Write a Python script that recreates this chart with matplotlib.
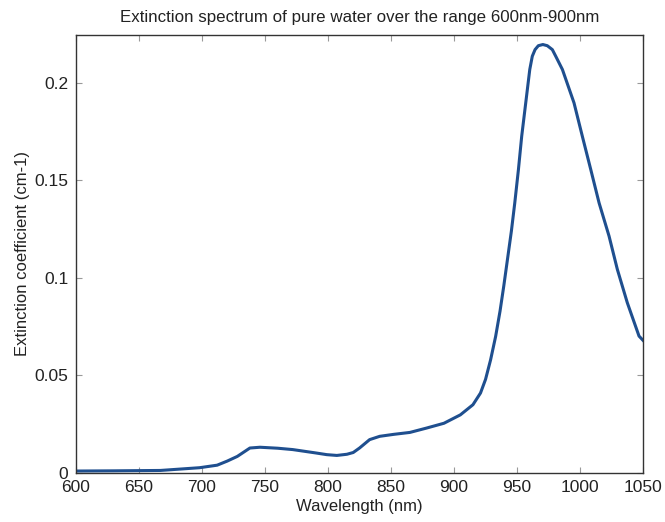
import numpy as np
import matplotlib.pyplot as plt

# values
wavelength = [600, 630, 667, 698, 712, 720, 728, 738, 746, 760, 772, 790, 799,
              807, 815, 820, 825, 833, 841, 852, 865, 878, 892, 905, 915, 921,
              925, 929, 933, 936.5, 939.5, 942.5, 945.5, 948.2, 951.1, 953.7,
              956.9, 960.1, 962.1, 964.3, 966.9, 970.5, 974, 978, 980.7, 986,
              995.2, 1001.8, 1008.5, 1015.1, 1023, 1029.6, 1037.5, 1046.8, 1050]
extinction = [0.0010, 0.0011, 0.0013, 0.0027, 0.0040, 0.0061, 0.0085, 0.0128,
              0.0132, 0.0127, 0.0120, 0.0103, 0.0094, 0.0090, 0.0096, 0.0105,
              0.0128, 0.0171, 0.0188, 0.0198, 0.0208, 0.0230, 0.0255, 0.0298,
              0.0350, 0.0410, 0.0480, 0.0580, 0.0700, 0.0830, 0.0960, 0.1100,
              0.1240, 0.1385, 0.1556, 0.1727, 0.1898, 0.2069, 0.2137, 0.2171,
              0.2191, 0.2197, 0.2191, 0.2171, 0.2137, 0.2069, 0.1898, 0.1727,
              0.1556, 0.1385, 0.1215, 0.1044, 0.0873, 0.0702, 0.0680]

xticks = [600, 650, 700, 750, 800, 850, 900, 950, 1000, 1050]
yticks = [0, 0.05, 0.1, 0.15, 0.2]
ytick_labels = ["0", "0.05", "0.1", "0.15", "0.2"]

plt.rcParams['font.family'] = ['Liberation Sans', 'DejaVu Sans']

fig = plt.figure(figsize=(6.65, 5.22), dpi=100)
ax = fig.add_axes([0.1143, 0.0939, 0.967 - 0.1143, 0.933 - 0.0939])

ax.plot(wavelength, extinction, color='#1f4f8f', linewidth=2.2,
        solid_joinstyle='round')

ax.set_xlim(600, 1050)
ax.set_ylim(0, 0.2246)
ax.set_xticks(xticks)
ax.set_yticks(yticks)
ax.set_yticklabels(ytick_labels)

ax.tick_params(direction='in', top=True, right=True, length=4, width=0.8,
               color='#999999', labelsize=12.5, labelcolor='#222222')
ax.tick_params(axis='x', pad=5)
ax.tick_params(axis='y', pad=5.5)
for s in ax.spines.values():
    s.set_color('#333333')
    s.set_linewidth(1.0)

ax.set_title("Extinction spectrum of pure water over the range 600nm-900nm",
             fontsize=12.2, color='#222222', pad=9)
ax.set_xlabel("Wavelength (nm)", fontsize=12, color='#222222', labelpad=3)
ax.set_ylabel("Extinction coefficient (cm-1)", fontsize=12, color='#222222', labelpad=3)

fig.savefig("out.png", dpi=100)
